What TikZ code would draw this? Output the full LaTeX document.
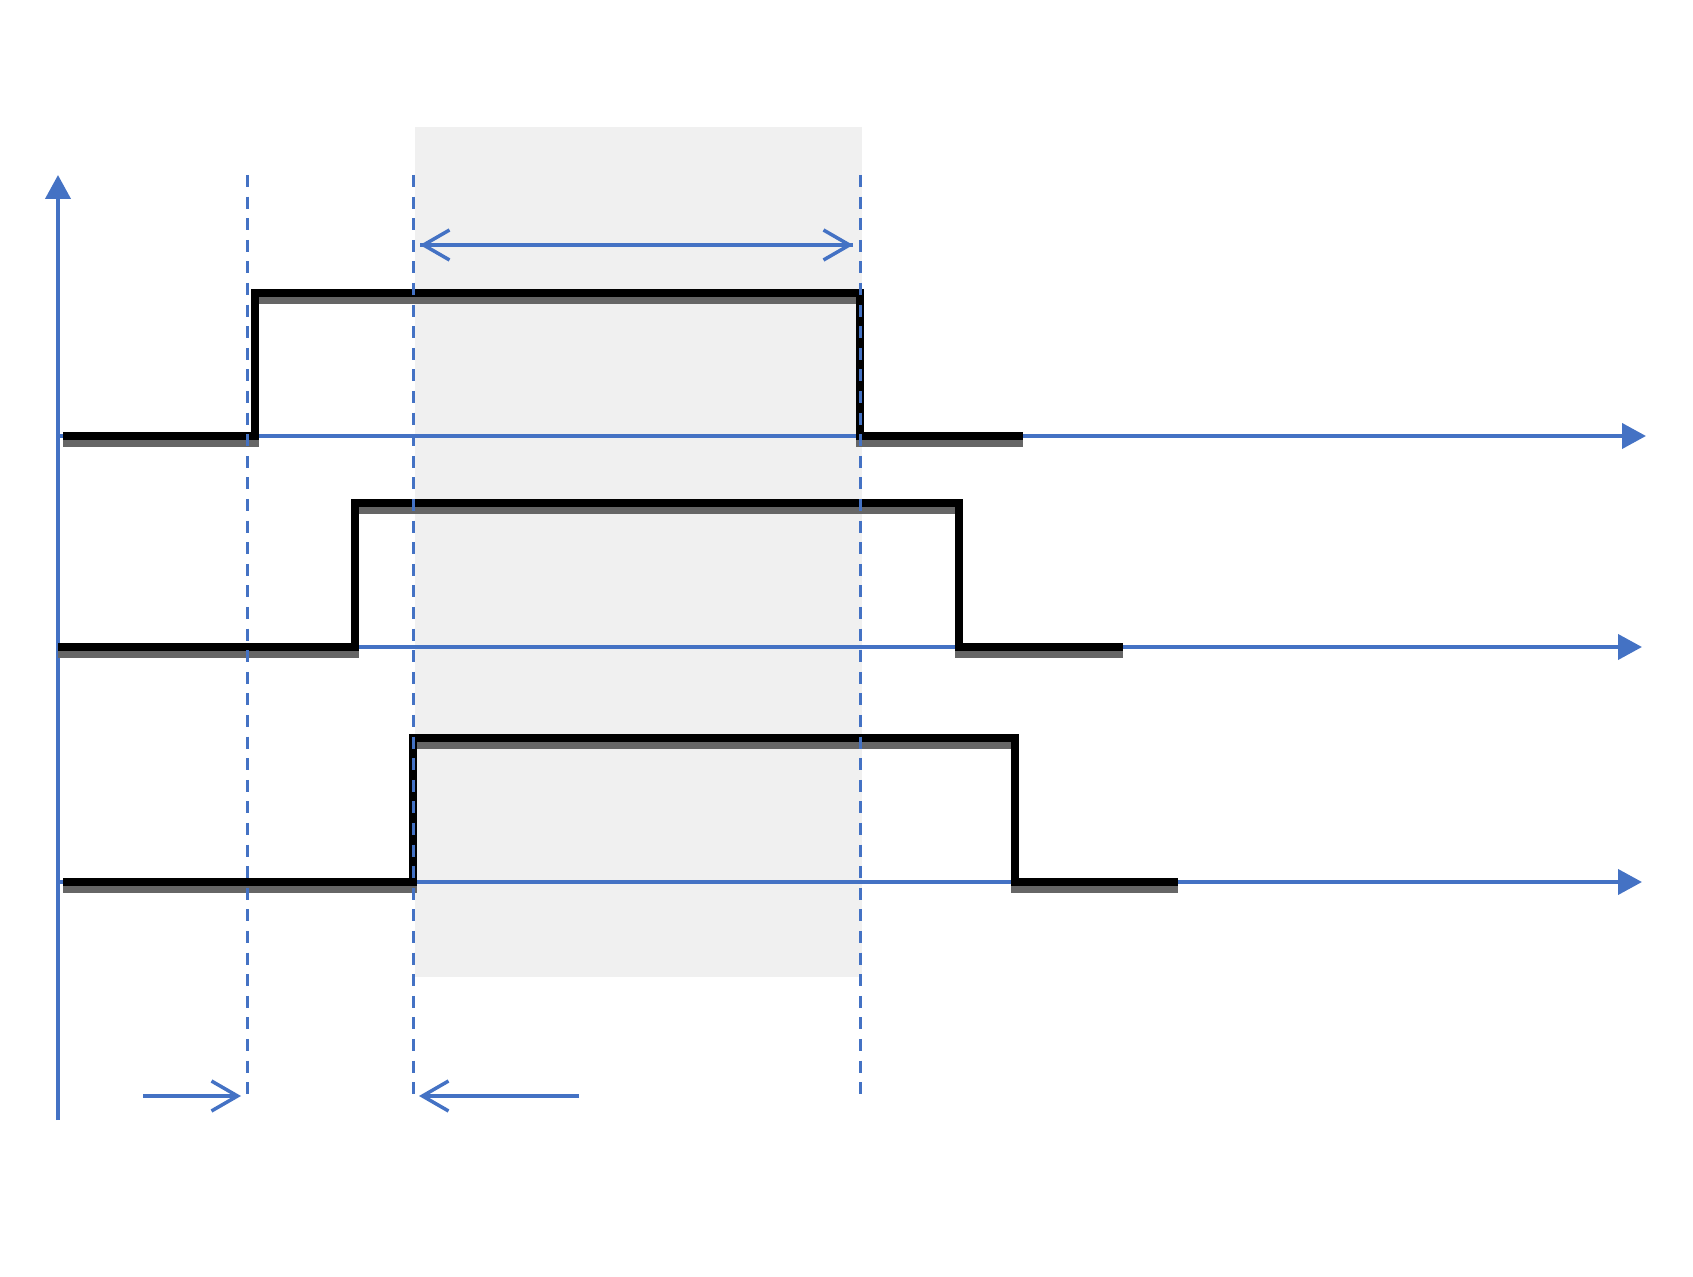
\documentclass[tikz,border=0pt]{standalone}
\usetikzlibrary{arrows.meta}
\definecolor{axisblue}{HTML}{4472C4}
\begin{document}
\begin{tikzpicture}[x=0.5pt,y=-0.5pt,
  axis/.style={axisblue,line width=2pt,-{Triangle[length=12pt,width=12.5pt]}},
  guide/.style={axisblue,line width=1.5pt,dash pattern=on 6pt off 4.8pt},
  barb/.style={axisblue,line width=1.75pt,-{Straight Barb[length=13pt,width=15pt]}},
  pulse/.style={line width=4pt,line join=miter},
  pulseshadow/.style={black!60,line width=4pt,yshift=-3.5pt}]
  \useasboundingbox (0,0) rectangle (1693,1277);
  % sampling window
  \fill[gray!12] (415,127) rectangle (862,977);
  % axes
  \coordinate (origin) at (58,1120);
  \coordinate (ytip) at (58,175);
  \draw[axis] (origin) -- (ytip);
  \foreach \y/\e in {436/1646,647/1642,882/1642}{
    \draw[axis] (58,\y) -- (\e,\y);
  }
  % pulses: start/rise/fall/end/low/high
  \foreach \s/\r/\f/\e/\lo/\hi in {63/255/860/1023/436/293,
                                   58/355/959/1123/647/503,
                                   63/413/1015/1178/882/738}{
    \draw[pulseshadow] (\s,\lo) -- (\r,\lo) -- (\r,\hi) -- (\f,\hi) -- (\f,\lo) -- (\e,\lo);
    \draw[pulse] (\s,\lo) -- (\r,\lo) -- (\r,\hi) -- (\f,\hi) -- (\f,\lo) -- (\e,\lo);
  }
  % guide lines
  \coordinate (g1top) at (247,175);
  \coordinate (g1bot) at (247,1096);
  \coordinate (g2top) at (413,175);
  \coordinate (g2bot) at (413,1096);
  \coordinate (g3top) at (860,175);
  \coordinate (g3bot) at (860,1096);
  \draw[guide] (g1top) -- (g1bot);
  \draw[guide] (g2top) -- (g2bot);
  \draw[guide] (g3top) -- (g3bot);
  % window width
  \coordinate (wl) at (420,245);
  \coordinate (wr) at (853,245);
  \draw[barb] (wl) -- (wr);
  \draw[barb] (wr) -- (wl);
  % margins
  \coordinate (m1) at (143,1096);
  \coordinate (m2) at (579,1096);
  \draw[barb] (m1) -- ([xshift=-3pt]g1bot);
  \draw[barb] (m2) -- ([xshift=3pt]g2bot);
\end{tikzpicture}
\end{document}
